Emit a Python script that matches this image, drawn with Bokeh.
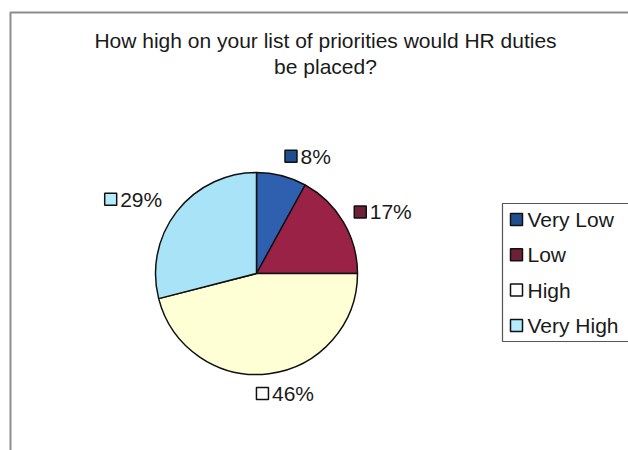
import math
from bokeh.plotting import figure
from bokeh.models import Range1d
from bokeh.core.properties import value
from bokeh.embed import file_html
from bokeh.resources import INLINE

# ---- data ----
categories = ["Very Low", "Low", "High", "Very High"]
percentages = [8, 17, 46, 29]
slice_colors = ["#2f60b0", "#9a2246", "#ffffd6", "#a9e3f7"]
legend_colors = ["#1f4f8f", "#6e2038", "#ffffff", "#b5ecfb"]
title_lines = ["How high on your list of priorities would HR duties", "be placed?"]

W, H = 628, 450
FONT = value("Liberation Sans")
FS = 21

p = figure(width=W, height=H, output_backend="svg", toolbar_location=None,
           x_range=Range1d(0, W), y_range=Range1d(0, H), min_border=0)
p.axis.visible = False
p.grid.visible = False
p.outline_line_color = None
p.background_fill_color = "white"
p.border_fill_color = "white"


def Y(ys):
    return H - ys


# chart frame (left and top edges visible in the scan)
p.line(x=[10, 10, W], y=[Y(H), Y(12), Y(12)], line_color="#8c8c8c", line_width=2)

# title
for i, t in enumerate(title_lines):
    p.text(x=[325], y=[Y(40 + 26 * i)], text=[t], text_font=FONT, text_font_size=f"{FS}px",
           text_align="center", text_baseline="middle", text_color="#1a1a1a")

# pie
cx, cy, R = 256, Y(273), 101
total = float(sum(percentages))
cum = [0.0]
for v in percentages:
    cum.append(cum[-1] + v / total)
starts = [math.pi / 2 - 2 * math.pi * c for c in cum[:-1]]
ends = [math.pi / 2 - 2 * math.pi * c for c in cum[1:]]
p.wedge(x=cx, y=cy, radius=R, start_angle=starts, end_angle=ends, direction="clock",
        fill_color=slice_colors, line_color="#111111", line_width=1.5)

# data labels (swatch + percentage), placed outside each slice
char_w = {"%": 0.889}
h = 16
for i, v in enumerate(percentages):
    mid = 2 * math.pi * (cum[i] + cum[i + 1]) / 2  # clockwise from top
    sn, cs = math.sin(mid), math.cos(mid)
    ax = cx + (R + 12) * sn
    ay_s = 273 - (R + 12) * cs
    txt = f"{v}%"
    tw = sum(char_w.get(ch, 0.556) for ch in txt) * FS
    w = 13 + 4 + tw
    s = max(-1.0, min(1.0, 4 * sn))
    left = ax - w * (1 - s) / 2 - (4 if s < 0 else 0)
    top = ay_s - h * (1 + cs) / 2
    mid_y = top + h / 2
    p.rect(x=[left + 6.5], y=[Y(mid_y)], width=12, height=12,
           fill_color=legend_colors[i], line_color="#111111", line_width=1.5)
    p.text(x=[left + 16], y=[Y(mid_y)], text=[txt], text_font=FONT, text_font_size=f"{FS}px",
           text_align="left", text_baseline="middle", text_color="#1a1a1a")

# legend
p.quad(left=[502], right=[W + 5], top=[Y(203)], bottom=[Y(341)],
       fill_color="white", line_color="#555555", line_width=1.2)
for i, name in enumerate(categories):
    ys = 219 + 35.3 * i
    p.rect(x=[516], y=[Y(ys)], width=12, height=12,
           fill_color=legend_colors[i], line_color="#111111", line_width=1.5)
    p.text(x=[527], y=[Y(ys)], text=[name], text_font=FONT, text_font_size=f"{FS}px",
           text_align="left", text_baseline="middle", text_color="#1a1a1a")

open("out.html", "w").write(file_html(p, INLINE))
